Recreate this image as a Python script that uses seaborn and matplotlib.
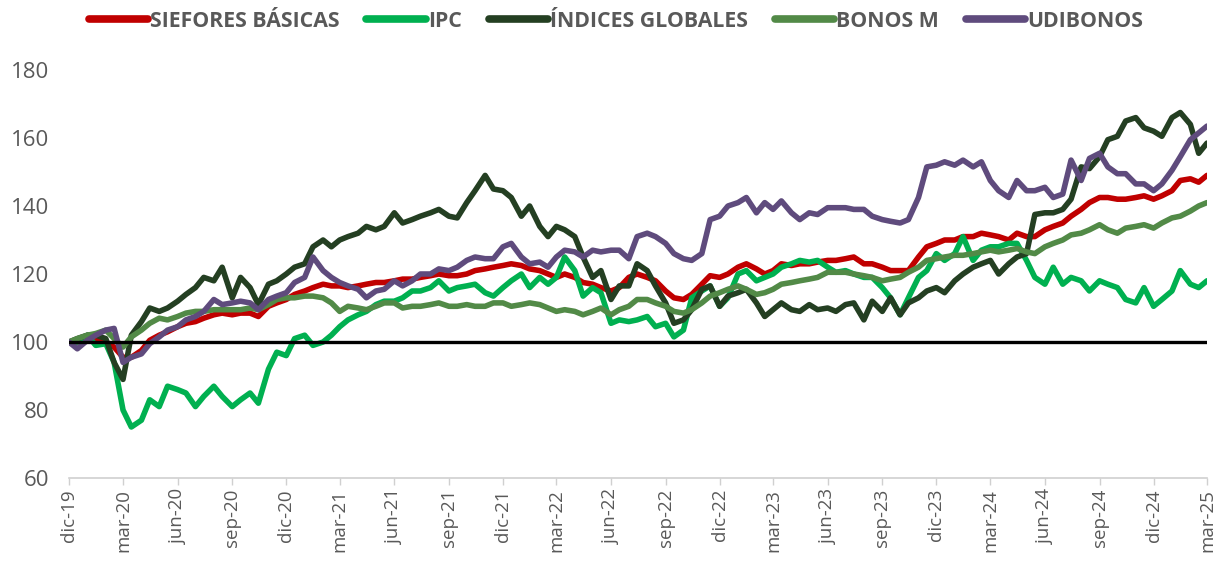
import pandas as pd
import numpy as np
import matplotlib
matplotlib.use('Agg')
import matplotlib.pyplot as plt
import seaborn as sns

# ---------- Data (semi-monthly readings, dic-19 .. mar-25, base 100) ----------
fechas = pd.date_range('2019-12-01', periods=127, freq='SMS')

siefores = [100, 100, 100.5, 100.5, 100, 98.5, 95.5, 95.5, 97.5, 100.5,
            102, 103, 104.5, 105.5, 106, 107, 108, 108.5, 108, 108.5,
            108.5, 107.5, 110.5, 111.5, 112.5, 114, 115, 116, 117, 116.5,
            116.5, 116, 116.5, 117, 117.5, 117.5, 118, 118.5, 118.5, 119,
            119.5, 120, 119.5,
            119.5, 120, 121, 121.5, 122, 122.5, 123, 122.5, 121.5, 121,
            120, 119, 120, 119, 117.5, 117, 116, 115, 116, 119,
            120, 119, 118, 115, 113, 112.5, 114, 117, 119.5, 119,
            120, 122, 123, 121.5, 120, 121, 123, 122.5, 123, 123,
            123.5, 124,
            124, 124.5, 125, 123, 123, 122, 121, 121, 121, 125,
            128, 129, 130, 130, 131, 131, 132, 131.5, 131, 130,
            132, 131, 131, 133, 134, 135, 137, 139, 141, 142.5,
            142.5, 142, 142, 142.5, 143, 142, 143, 144.5, 147.5, 148,
            147, 149]

ipc = [100, 100, 102, 99, 99.5, 94, 80, 75, 77, 83,
       81, 87, 86, 85, 81, 84, 87, 84, 81, 83,
       85, 82, 92, 97, 96, 101, 102, 99, 100, 102,
       104.5, 106.5, 108, 109, 111, 112, 112, 113, 115, 115,
       116, 118, 115,
       116, 116.5, 117, 114.5, 113.5, 116, 118, 120, 116, 119,
       117, 119, 125, 121, 113.5, 116, 114.5, 105.5, 106.5, 106,
       106.5, 107.5, 104.5, 105.5, 101.5, 103.5, 113, 115, 116.5, 110.5,
       113, 120, 121, 118, 119, 120, 122, 123, 124, 123.5,
       124, 122,
       120.5, 121, 120, 119, 119, 116, 113, 108, 113, 119,
       121, 126, 124, 126, 131, 124, 127, 128, 128, 129,
       129, 124, 119, 117, 122, 117, 119, 118, 115, 118,
       117, 116, 112.5, 111.5, 116, 110.5, 112.5, 115, 121, 117,
       116, 118]

globales = [100, 101, 102, 102, 101, 94, 89, 102, 106, 110,
            109, 110, 112, 114, 116, 119, 118, 122, 113, 119,
            116, 111, 117, 118, 120, 122, 123, 128, 130, 128,
            130, 131, 132, 134, 133, 134, 138, 135, 136, 137,
            138, 139, 137,
            136.5, 141, 144.5, 149, 145, 144.5, 142.5, 137, 140, 134,
            131, 134, 133, 131, 125, 119, 121, 112.5, 116.5, 116.5,
            123, 121, 116.5, 111.5, 105.5, 106.5, 109.5, 115.5, 116.5, 110.5,
            113.5, 114.5, 115.5, 111.5, 107.5, 109.5, 111.5, 109.5, 109, 111,
            109.5, 110,
            109, 111, 111.5, 106.5, 112, 109, 113, 108, 111.5, 113,
            115, 116, 114.5, 118, 120, 122, 123, 124, 120, 123,
            125, 126, 137.5, 138, 138, 139, 142, 151.5, 151, 154.5,
            159.5, 160.5, 165, 166, 163, 162, 160.5, 166, 167.5, 164,
            155.5, 158.5]

bonos_m = [100, 101, 102, 102.5, 103.5, 101, 98.5, 101.5, 103.5, 105.5,
           107, 106.5, 107.5, 108.5, 109, 109, 109.5, 109.5, 109.5, 109.5,
           110, 109.5, 111, 112.5, 113, 113, 113.5, 113.5, 113, 111.5,
           109, 110.5, 110, 109.5, 110.5, 111.5, 111.5, 110, 110.5, 110.5,
           111, 111.5, 110.5,
           110.5, 111, 110.5, 110.5, 111.5, 111.5, 110.5, 111, 111.5, 111,
           110, 109, 109.5, 109, 108, 109, 110, 108, 109.5, 110.5,
           112.5, 112.5, 111.5, 110.5, 109, 108.5, 109.5, 111.5, 113.5, 114.5,
           115.5, 116.5, 115.5, 114, 114.5, 115.5, 117, 117.5, 118, 118.5,
           119, 120.5,
           120.5, 120.5, 120, 119.5, 119, 118, 118.5, 119, 120.5, 122,
           124, 124.5, 125, 125.5, 125.5, 126, 126.5, 127, 126.5, 127,
           127.5, 126.5, 126, 128, 129, 130, 131.5, 132, 133, 134.5,
           133, 132, 133.5, 134, 134.5, 133.5, 135, 136.5, 137, 138.5,
           140, 141]

udibonos = [100, 98, 100.5, 102, 103.5, 104, 94, 95.5, 96.5, 99.5,
            101.5, 103.5, 104.5, 106.5, 107.5, 109, 112.5, 111, 111.5, 112,
            111.5, 109.5, 112.5, 113.5, 114.5, 117.5, 119, 125, 121, 119,
            117.5, 116.5, 115.5, 113, 115, 115.5, 118, 116.5, 118, 120,
            120, 121.5, 121,
            122, 124, 125, 124.5, 124.5, 128, 129, 125, 123, 123.5,
            122, 125, 127, 126.5, 125, 127, 126.5, 127, 127, 124.5,
            131, 132, 131, 129, 126, 124.5, 124, 126, 136, 137,
            140, 141, 142.5, 138, 141, 139, 141.5, 138, 136, 138,
            137.5, 139.5,
            139.5, 139.5, 139, 139, 137, 136, 135.5, 135, 136, 142.5,
            151.5, 152, 153, 152, 153.5, 151.5, 153, 147.5, 144.5, 142.5,
            147.5, 144.5, 144.5, 145.5, 142.5, 143.5, 153.5, 147.5, 154, 155.5,
            151.5, 149.5, 149.5, 146.5, 146.5, 144.5, 146.5, 150.5, 154.5, 159.5,
            161.5, 163.5]

series = ['SIEFORES BÁSICAS', 'IPC', 'ÍNDICES GLOBALES', 'BONOS M', 'UDIBONOS']
colores = ['#C00000', '#00B050', '#243F22', '#528A47', '#5F4B7D']

tick_labels = ['dic-19', 'mar-20', 'jun-20', 'sep-20', 'dic-20', 'mar-21',
               'jun-21', 'sep-21', 'dic-21', 'mar-22', 'jun-22', 'sep-22',
               'dic-22', 'mar-23', 'jun-23', 'sep-23', 'dic-23', 'mar-24',
               'jun-24', 'sep-24', 'dic-24', 'mar-25']

df = pd.DataFrame({'fecha': fechas, series[0]: siefores, series[1]: ipc,
                   series[2]: globales, series[3]: bonos_m, series[4]: udibonos})
long_df = df.melt(id_vars='fecha', var_name='serie', value_name='valor')

# ---------- Plot ----------
sns.set_style('white')
plt.rcParams['font.family'] = ['Open Sans', 'DejaVu Sans']

fig = plt.figure(figsize=(12.27, 5.72), dpi=100)
ax = fig.add_axes([69 / 1227, 94 / 572, 1138 / 1227, 408 / 572])

sns.lineplot(data=long_df, x='fecha', y='valor', hue='serie', hue_order=series,
             palette=colores, linewidth=4.0, ax=ax, legend=False,
             solid_capstyle='round', solid_joinstyle='round')
ax.axhline(100, color='black', linewidth=2.4, zorder=5)

ax.set_xlim(fechas[0], fechas[-1])
ax.set_ylim(60, 180)
ax.set_yticks(range(60, 181, 20))
ax.set_xticks(fechas[::6])
ax.set_xticklabels(tick_labels, rotation=90)
ax.set_xlabel('')
ax.set_ylabel('')

for s in ['top', 'right', 'left']:
    ax.spines[s].set_visible(False)
ax.spines['bottom'].set_color('#D0D0D0')
ax.spines['bottom'].set_linewidth(1.2)
ax.tick_params(axis='x', colors='#595959', labelsize=13.5, length=5,
               width=1, color='#D0D0D0', pad=3, bottom=True)
ax.tick_params(axis='y', colors='#595959', labelsize=16, length=0, pad=14)

handles = [plt.Line2D([], [], color=c, linewidth=5.5, solid_capstyle='round')
           for c in colores]
leg = fig.legend(handles, series, loc='upper center', ncol=5, frameon=False,
                 bbox_to_anchor=(0.502, 1.015), handlelength=2.8,
                 handletextpad=0.1, columnspacing=1.25,
                 prop={'weight': 'bold', 'size': 15.3})
for t in leg.get_texts():
    t.set_color('#595959')

plt.savefig('out.png', dpi=100)
